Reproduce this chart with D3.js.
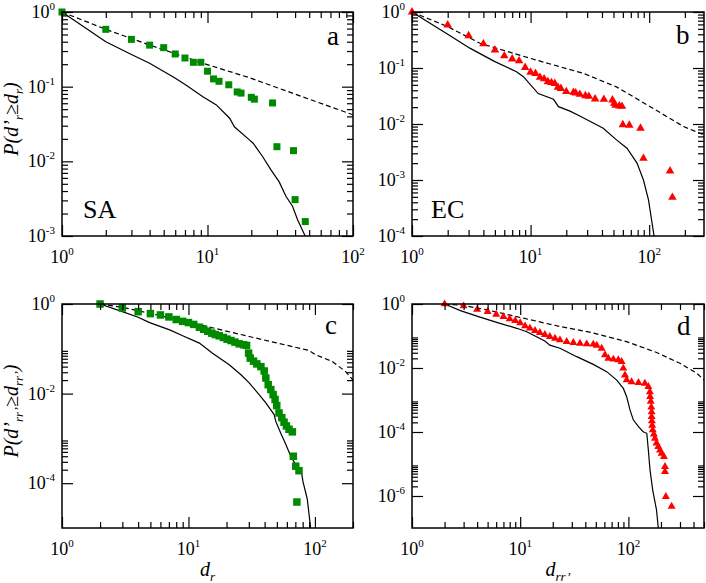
<!DOCTYPE html>
<html>
<head>
<meta charset="utf-8">
<script src="https://cdn.jsdelivr.net/npm/d3@7"></script>
<style>
  body { margin: 0; background: #fff; }
  svg { display: block; }
  svg text { font-family: "Liberation Serif", "DejaVu Serif", serif; fill: #000; }
</style>
</head>
<body>
<script>
// ---- data ----
// panel a (SA, d_r)
const aMarkX = [1, 2, 3, 4, 5, 6, 7, 8, 9, 10, 11, 12, 14, 16, 17, 20, 21, 28, 30, 39, 40, 47];
const aMarkY = [1, 0.586, 0.43, 0.36, 0.333, 0.274, 0.242, 0.212, 0.212, 0.161, 0.127, 0.118, 0.106, 0.085, 0.082, 0.072, 0.068, 0.0605, 0.0157, 0.0139, 0.00307, 0.00156];
const aSolidX = [1, 2, 3, 4, 5.9, 7.1, 9.3, 11.5, 14.2, 15.3, 19.4, 20.6, 23.9, 27.3, 31.1, 34.6, 38.4, 41.6, 46.9, 48];
const aSolidY = [1, 0.40, 0.27, 0.206, 0.133, 0.105, 0.0735, 0.057, 0.0378, 0.029, 0.0194, 0.0175, 0.0116, 0.0077, 0.0053, 0.0034, 0.0025, 0.00165, 0.001, 0.0008];
const aDashX = [1, 2, 4, 5.9, 9.3, 19.4, 50, 100];
const aDashY = [1, 0.586, 0.361, 0.28, 0.206, 0.132, 0.068, 0.042];

// panel b (EC, d_r)
const bMarkX = [1, 2, 3, 4, 5, 6, 7, 8, 9, 10, 11, 12, 13, 14, 15, 16, 17, 18, 20, 23, 24, 26, 29, 31, 35, 41.5, 49, 50.7, 52, 56, 59, 60, 68, 84.5, 89.5, 150, 157];
const bMarkY = [1, 0.586, 0.377, 0.27, 0.21, 0.165, 0.145, 0.134, 0.102, 0.084, 0.08, 0.068, 0.064, 0.057, 0.055, 0.053, 0.045, 0.043, 0.038, 0.0368, 0.0358, 0.0339, 0.032, 0.0312, 0.028, 0.0276, 0.0268, 0.0234, 0.0215, 0.021, 0.0207, 0.0097, 0.0095, 0.0084, 0.00244, 0.00145, 0.00049];
const bSolidX = [1, 2, 3.1, 5, 7.6, 8.7, 11.6, 15.6, 17.2, 21.5, 26, 41, 53, 65, 79, 89.5, 98.7, 110];
const bSolidY = [1, 0.40, 0.224, 0.13, 0.086, 0.07, 0.035, 0.0276, 0.0204, 0.017, 0.0139, 0.0084, 0.0052, 0.0037, 0.002, 0.001, 0.00044, 0.0001];
const bDashX = [1, 2, 3.75, 9.9, 28, 53, 102, 195, 290];
const bDashY = [1, 0.547, 0.276, 0.149, 0.08, 0.046, 0.0204, 0.009, 0.0064];

// panel c (SA, d_rr')
const cMarkX = [2, 3, 4, 5, 6, 7, 8, 9, 10, 11, 12.2, 13.2, 14.2, 15.3, 16.3, 17.5, 18.9, 20.2, 21.7, 23.3, 25.2, 27.3, 28.8, 29.9, 30.8, 32.7, 34.7, 37.4, 39.7, 40.9, 42.7, 44.8, 46.7, 48.4, 49.9, 52, 54.7, 57, 59.5, 62.4, 66.3, 67.5, 70.5, 74.8, 72];
const cMarkY = [1, 0.815, 0.675, 0.61, 0.57, 0.515, 0.45, 0.41, 0.385, 0.35, 0.303, 0.273, 0.247, 0.223, 0.208, 0.195, 0.179, 0.164, 0.153, 0.141, 0.129, 0.123, 0.119, 0.080, 0.062, 0.053, 0.046, 0.040, 0.032, 0.0223, 0.0158, 0.0123, 0.0095, 0.0074, 0.0054, 0.0037, 0.0029, 0.0023, 0.0019, 0.0016, 0.0014, 0.0004, 0.00024, 0.00019, 0.000038];
const cSolidX = [2, 3, 4, 4.93, 7.1, 9, 12.2, 15.5, 21, 26, 30.2, 36.2, 40.9, 47.6, 49, 53.7, 58.8, 64.4, 70.5, 78.5, 80.5, 84.5, 87, 92.5];
const cSolidY = [1, 0.675, 0.506, 0.385, 0.264, 0.195, 0.134, 0.080, 0.044, 0.0264, 0.0173, 0.0095, 0.0062, 0.0034, 0.0024, 0.0013, 0.00074, 0.0004, 0.00026, 0.00017, 0.000107, 0.000062, 0.000044, 0.00001];
const cDashX = [2, 3, 4, 11.5, 30.2, 89.7, 101, 137, 175, 200];
const cDashY = [1, 0.84, 0.71, 0.36, 0.188, 0.092, 0.074, 0.052, 0.031, 0.02];

// panel d (EC, d_rr')
const dMarkX = [2, 3, 4, 5, 6, 7, 8, 9, 10, 11.1, 12.3, 13.7, 15.2, 16.9, 18.8, 21, 23.3, 26.9, 31, 35.7, 41.2, 47.4, 51, 56.6, 60.8, 65.3, 72.6, 80.7, 86.6, 89.8, 93, 96.4, 107, 124, 142, 153, 158, 159, 161, 163, 164, 164, 165, 166, 168, 172, 176, 182, 189, 196, 203, 213, 218, 218, 222, 251];
const dMarkY = [1, 0.866, 0.68, 0.575, 0.475, 0.40, 0.34, 0.30, 0.255, 0.205, 0.174, 0.147, 0.127, 0.11, 0.095, 0.0845, 0.075, 0.0665, 0.062, 0.059, 0.056, 0.055, 0.051, 0.041, 0.0255, 0.020, 0.0187, 0.0178, 0.0158, 0.0098, 0.006, 0.0042, 0.0037, 0.0035, 0.0033, 0.0026, 0.0018, 0.00127, 0.0009, 0.0006, 0.00042, 0.0003, 0.00022, 0.00016, 0.000115, 0.000085, 0.000063, 0.000045, 0.000035, 0.000027, 0.0000215, 0.000017, 0.0000083, 0.0000058, 0.00000095, 0.00000047];
const dSolidX = [2, 2.8, 4.25, 6.5, 9.3, 11.5, 16.9, 18.8, 23.3, 33.3, 47.4, 63, 78, 89.8, 96.4, 103.5, 111, 124, 137, 148, 153, 158.5, 168, 182, 189];
const dSolidY = [1, 0.62, 0.39, 0.249, 0.174, 0.136, 0.07, 0.052, 0.0415, 0.0226, 0.013, 0.0077, 0.0042, 0.0023, 0.00127, 0.00049, 0.00024, 0.000147, 0.000102, 0.000091, 0.000027, 0.0000065, 0.0000015, 0.000000365, 0.0000001];
const dDashX = [2, 3, 5, 10.7, 23, 45, 96, 180, 300, 430, 500];
const dDashY = [1, 0.9, 0.65, 0.36, 0.2, 0.13, 0.067, 0.031, 0.014, 0.0068, 0.0042];

const GREEN = '#008a00';
const RED = '#ff0000';
const SERIF = '"Liberation Serif", "DejaVu Serif", serif';

const panels = [
  { key: 'a', left: 62, right: 353, top: 12, bottom: 236, xDom: [1, 100], yDom: [1e-3, 1], yStep: 1,
    mx: aMarkX, my: aMarkY, sx: aSolidX, sy: aSolidY, dx: aDashX, dy: aDashY,
    shape: 'square', size: 7, color: GREEN, letter: [327, 45], name: 'SA', namePos: [83, 218], yTitle: 'top' },
  { key: 'b', left: 412, right: 704, top: 12, bottom: 236, xDom: [1, 290], yDom: [1e-4, 1], yStep: 1,
    mx: bMarkX, my: bMarkY, sx: bSolidX, sy: bSolidY, dx: bDashX, dy: bDashY,
    shape: 'triangle', size: 8.5, color: RED, letter: [676, 44], name: 'EC', namePos: [431, 218] },
  { key: 'c', left: 62, right: 353, top: 304, bottom: 528, xDom: [1, 200], yDom: [1e-5, 1], yStep: 2,
    mx: cMarkX, my: cMarkY, sx: cSolidX, sy: cSolidY, dx: cDashX, dy: cDashY,
    shape: 'square', size: 7.5, color: GREEN, letter: [325, 334], yTitle: 'bottom', xTitle: 'r' },
  { key: 'd', left: 412, right: 704, top: 304, bottom: 528, xDom: [1, 500], yDom: [1e-7, 1], yStep: 2,
    mx: dMarkX, my: dMarkY, sx: dSolidX, sy: dSolidY, dx: dDashX, dy: dDashY,
    shape: 'triangle', size: 8, color: RED, letter: [677, 335], xTitle: 'rr’' }
];

const svg = d3.select('body').append('svg')
  .attr('width', 706)
  .attr('height', 583)
  .attr('font-family', SERIF);

function powLabel(t, e) {
  t.append('tspan').text('10');
  t.append('tspan').attr('font-size', 11).attr('dy', -8).text(e);
}

// text made of pieces; sub pieces are lowered
function richText(t, parts, subSize, shift) {
  parts.forEach(p => {
    if (p.sub) {
      t.append('tspan').attr('font-size', subSize).attr('dy', shift).text(p.t);
    } else {
      t.append('tspan').attr('dy', p.back ? -shift : 0).text(p.t);
    }
  });
}

const MAJOR = 11, MINOR = 6;

panels.forEach(p => {
  const x = d3.scaleLog().domain(p.xDom).range([p.left, p.right]);
  const y = d3.scaleLog().domain(p.yDom).range([p.bottom, p.top]);
  const g = svg.append('g');

  const [x0, x1] = p.xDom, [y0, y1] = p.yDom;
  const eMinX = Math.round(Math.log10(x0)), eMaxX = Math.floor(Math.log10(x1) + 1e-9);
  const eMinY = Math.round(Math.log10(y0)), eMaxY = Math.round(Math.log10(y1));

  const xMajor = d3.range(eMinX, eMaxX + 1).map(e => Math.pow(10, e));
  const xMinor = [];
  d3.range(eMinX, eMaxX + 1).forEach(e => d3.range(2, 10).forEach(k => {
    const v = k * Math.pow(10, e); if (v <= x1 * 1.0001) xMinor.push(v);
  }));

  const yMajor = d3.range(eMaxY, eMinY - 1, -p.yStep).map(e => Math.pow(10, e));
  const yMinor = [];
  yMajor.forEach(m => {
    const base = m * Math.pow(10, -p.yStep);
    if (base < y0 * 0.999) return;
    d3.range(2, 10).forEach(k => yMinor.push(base * k));
  });

  // clip for curves
  const clipId = 'clip-' + p.key;
  svg.append('clipPath').attr('id', clipId).append('rect')
    .attr('x', p.left).attr('y', p.top)
    .attr('width', p.right - p.left).attr('height', p.bottom - p.top);

  const line = d3.line().x(d => x(d[0])).y(d => y(d[1]));

  g.append('path')
    .attr('d', line(d3.zip(p.dx, p.dy)))
    .attr('clip-path', `url(#${clipId})`)
    .attr('fill', 'none').attr('stroke', '#000')
    .attr('stroke-width', 1.2).attr('stroke-dasharray', '5,3');

  g.append('path')
    .attr('d', line(d3.zip(p.sx, p.sy)))
    .attr('clip-path', `url(#${clipId})`)
    .attr('fill', 'none').attr('stroke', '#000')
    .attr('stroke-width', 1.2);

  // markers
  const pts = d3.zip(p.mx, p.my);
  if (p.shape === 'square') {
    g.selectAll('rect.mk').data(pts).enter().append('rect')
      .attr('class', 'mk')
      .attr('x', d => x(d[0]) - p.size / 2)
      .attr('y', d => y(d[1]) - p.size / 2)
      .attr('width', p.size).attr('height', p.size)
      .attr('fill', p.color);
  } else {
    const tri = d3.symbol().type(d3.symbolTriangle).size(Math.sqrt(3) / 4 * p.size * p.size);
    g.selectAll('path.mk').data(pts).enter().append('path')
      .attr('class', 'mk')
      .attr('d', tri)
      .attr('transform', d => `translate(${x(d[0])},${y(d[1])})`)
      .attr('fill', p.color);
  }

  // ticks (inward, on all four sides)
  const sides = [
    { ax: d3.axisBottom(x), t: `translate(0,${p.bottom})`, maj: xMajor, min: xMinor },
    { ax: d3.axisTop(x), t: `translate(0,${p.top})`, maj: xMajor, min: xMinor },
    { ax: d3.axisLeft(y), t: `translate(${p.left},0)`, maj: yMajor, min: yMinor },
    { ax: d3.axisRight(y), t: `translate(${p.right},0)`, maj: yMajor, min: yMinor }
  ];
  sides.forEach(s => {
    [[s.maj, MAJOR], [s.min, MINOR]].forEach(([vals, len]) => {
      g.append('g').attr('transform', s.t)
        .call(s.ax.tickValues(vals).tickSize(-len).tickFormat(''))
        .call(a => a.select('.domain').remove())
        .call(a => a.selectAll('line').attr('stroke', '#000').attr('stroke-width', 1.2));
    });
  });

  g.append('rect')
    .attr('x', p.left).attr('y', p.top)
    .attr('width', p.right - p.left).attr('height', p.bottom - p.top)
    .attr('fill', 'none').attr('stroke', '#000').attr('stroke-width', 1.5);

  // tick labels
  xMajor.forEach(v => {
    const t = g.append('text').attr('x', x(v)).attr('y', p.bottom + 27)
      .attr('text-anchor', 'middle').attr('font-size', 18).attr('font-family', SERIF);
    powLabel(t, String(Math.round(Math.log10(v))));
  });
  yMajor.forEach(v => {
    const t = g.append('text').attr('x', p.left - 7).attr('y', y(v) + 6)
      .attr('text-anchor', 'end').attr('font-size', 18).attr('font-family', SERIF);
    powLabel(t, String(Math.round(Math.log10(v))));
  });

  // panel letter and system name
  g.append('text').attr('x', p.letter[0]).attr('y', p.letter[1])
    .attr('font-size', 27).attr('font-family', SERIF).text(p.key);
  if (p.name) {
    g.append('text').attr('x', p.namePos[0]).attr('y', p.namePos[1])
      .attr('font-size', 26).attr('font-family', SERIF).text(p.name);
  }

  // axis titles
  if (p.yTitle) {
    const sub = p.yTitle === 'top' ? 'r' : 'rr’';
    const cy = (p.top + p.bottom) / 2 - 5;
    const t = g.append('text')
      .attr('transform', `translate(18,${cy}) rotate(-90)`)
      .attr('text-anchor', 'middle').attr('font-size', 20).attr('font-style', 'italic')
      .attr('font-family', SERIF);
    richText(t, [{ t: 'P(d’' }, { t: sub, sub: true }, { t: '≥d', back: true }, { t: sub, sub: true }, { t: ')', back: true }], 13, 5);
  }
  if (p.xTitle) {
    const t = g.append('text')
      .attr('x', (p.left + p.right) / 2).attr('y', 576)
      .attr('text-anchor', 'middle').attr('font-size', 20).attr('font-style', 'italic')
      .attr('font-family', SERIF);
    richText(t, [{ t: 'd' }, { t: p.xTitle, sub: true }], 13, 5);
  }
});
</script>
</body>
</html>
